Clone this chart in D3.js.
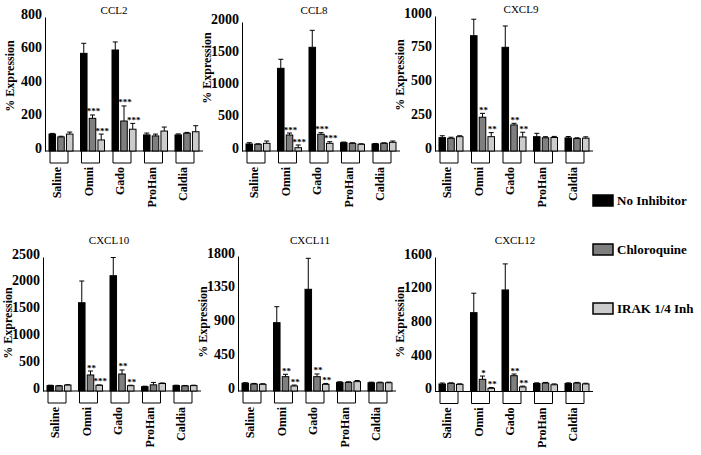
<!DOCTYPE html>
<html><head><meta charset="utf-8">
<script src="https://cdn.jsdelivr.net/npm/d3@7"></script>
<style>
html,body{margin:0;padding:0;background:#fff;}
</style></head>
<body><svg id="c" width="701" height="455"></svg>
<script>
// ---------- DATA ----------
const categories = ["Saline", "Omni", "Gado", "ProHan", "Caldia"];
const seriesNames = ["No Inhibitor", "Chloroquine", "IRAK 1/4 Inh"];
const panelTitles = ["CCL2", "CCL8", "CXCL9", "CXCL10", "CXCL11", "CXCL12"];

const ticksCCL2 = [0, 200, 400, 600, 800];
const ticksCCL8 = [0, 500, 1000, 1500, 2000];
const ticksCXCL9 = [0, 250, 500, 750, 1000];
const ticksCXCL10 = [0, 500, 1000, 1500, 2000, 2500];
const ticksCXCL11 = [0, 450, 900, 1350, 1800];
const ticksCXCL12 = [0, 400, 800, 1200, 1600];

// mean values per series (No Inhibitor, Chloroquine, IRAK 1/4 Inh)
const ccl2Mean = [[101, 583, 603, 96, 96], [84, 195, 179, 90, 106], [101, 66, 130, 119, 115]];
const ccl2Err = [[4, 60, 48, 11, 6], [4, 20, 90, 11, 5], [12, 35, 35, 24, 36]];
const ccl2Sig = [["", "", "", "", ""], ["", "***", "***", "", ""], ["", "***", "***", "", ""]];

const ccl8Mean = [[109, 1282, 1608, 129, 109], [104, 248, 259, 119, 119], [119, 51, 119, 104, 135]];
const ccl8Err = [[20, 140, 263, 10, 8], [8, 31, 25, 8, 8], [36, 42, 25, 8, 20]];
const ccl8Sig = [["", "", "", "", ""], ["", "***", "***", "", ""], ["", "***", "***", "", ""]];

const cxcl9Mean = [[99, 854, 768, 106, 97], [94, 250, 193, 98, 92], [106, 106, 104, 100, 95]];
const cxcl9Err = [[14, 122, 158, 25, 10], [8, 29, 12, 8, 6], [7, 30, 35, 8, 10]];
const cxcl9Sig = [["", "", "", "", ""], ["", "**", "**", "", ""], ["", "**", "**", "", ""]];

const cxcl10Mean = [[100, 1647, 2151, 80, 100], [95, 299, 317, 115, 95], [110, 106, 99, 140, 100]];
const cxcl10Err = [[8, 405, 339, 10, 8], [8, 74, 75, 45, 8], [8, 8, 8, 10, 8]];
const cxcl10Sig = [["", "", "", "", ""], ["", "**", "**", "", ""], ["", "***", "**", "", ""]];

const cxcl11Mean = [[103, 911, 1356, 115, 110], [93, 191, 191, 115, 110], [89, 67, 89, 125, 110]];
const cxcl11Err = [[8, 213, 413, 8, 8], [8, 32, 36, 8, 8], [8, 12, 12, 15, 8]];
const cxcl11Sig = [["", "", "", "", ""], ["", "**", "**", "", ""], ["", "**", "**", "", ""]];

const cxcl12Mean = [[89, 938, 1208, 95, 95], [97, 145, 188, 100, 100], [85, 38, 54, 80, 90]];
const cxcl12Err = [[12, 231, 310, 8, 8], [6, 39, 20, 8, 8], [6, 10, 10, 10, 8]];
const cxcl12Sig = [["", "", "", "", ""], ["", "*", "**", "", ""], ["", "**", "**", "", ""]];

// ---------- LAYOUT ----------
const FONT = "'Liberation Serif'";
const colors = ["#000000", "#7f7f7f", "#cccccc"];
const panels = [
  {title: panelTitles[0], ticks: ticksCCL2, mean: ccl2Mean, err: ccl2Err, sig: ccl2Sig, ax: 45, y0: 151, yTop: 17, tx: 114, ty: 10, ly: 76},
  {title: panelTitles[1], ticks: ticksCCL8, mean: ccl8Mean, err: ccl8Err, sig: ccl8Sig, ax: 242, y0: 151, yTop: 22, tx: 314, ty: 10, ly: 68},
  {title: panelTitles[2], ticks: ticksCXCL9, mean: cxcl9Mean, err: cxcl9Err, sig: cxcl9Sig, ax: 435, y0: 151, yTop: 16, tx: 521, ty: 9, ly: 75},
  {title: panelTitles[3], ticks: ticksCXCL10, mean: cxcl10Mean, err: cxcl10Err, sig: cxcl10Sig, ax: 43, y0: 391, yTop: 257, tx: 109, ty: 240, ly: 323},
  {title: panelTitles[4], ticks: ticksCXCL11, mean: cxcl11Mean, err: cxcl11Err, sig: cxcl11Sig, ax: 238, y0: 391, yTop: 256, tx: 310, ty: 240, ly: 322},
  {title: panelTitles[5], ticks: ticksCXCL12, mean: cxcl12Mean, err: cxcl12Err, sig: cxcl12Sig, ax: 435, y0: 391.5, yTop: 257, tx: 515, ty: 240, ly: 322}
];

const svg = d3.select("#c");

function txt(sel) { return sel.style("font-family", FONT).attr("fill", "#000"); }

panels.forEach(p => {
  const g = svg.append("g");
  const y = d3.scaleLinear().domain([0, d3.max(p.ticks)]).range([p.y0, p.yTop]);
  const x = d3.scaleBand().domain(categories).range([p.ax + 4, p.ax + 154]).paddingInner(0.238).paddingOuter(0);
  const xs = d3.scaleBand().domain(d3.range(seriesNames.length)).range([0, x.bandwidth()]).paddingInner(0.25);

  // y axis
  const yAxis = d3.axisLeft(y).tickValues(p.ticks).tickSize(0).tickSizeOuter(0).tickPadding(3).tickFormat(d3.format("d"));
  const ya = g.append("g").attr("transform", `translate(${p.ax},0)`).call(yAxis);
  ya.attr("font-family", null).attr("font-size", null);
  ya.select(".domain").attr("stroke", "#000").attr("stroke-width", 1);
  txt(ya.selectAll("text")).style("font-size", "14px").style("font-weight", "bold").attr("dy", "0.08em");

  // baseline
  g.append("line").attr("x1", p.ax).attr("x2", x.range()[1] + 4)
    .attr("y1", p.y0).attr("y2", p.y0).attr("stroke", "#000").attr("stroke-width", 1);

  // brackets + labels
  categories.forEach(c => {
    const x0 = x(c);
    g.append("path").attr("d", `M${x0 + 1},${p.y0}V${p.y0 + 12}H${x0 + 19}V${p.y0}`)
      .attr("fill", "none").attr("stroke", "#000").attr("stroke-width", 1);
    txt(g.append("text")).attr("transform", `translate(${x0 + 8},${p.y0 + 16}) rotate(-90)`)
      .attr("text-anchor", "end").attr("dy", "0.35em")
      .style("font-size", "12px").style("font-weight", "bold").text(c);
  });

  // bars
  seriesNames.forEach((s, si) => {
    categories.forEach((c, ci) => {
      const v = p.mean[si][ci], e = p.err[si][ci];
      const bx = x(c) + xs(si), bw = xs.bandwidth(), cx = bx + bw / 2;
      g.append("line").attr("x1", cx).attr("x2", cx).attr("y1", y(v)).attr("y2", y(v + e))
        .attr("stroke", "#000").attr("stroke-width", 1);
      g.append("line").attr("x1", cx - 2.5).attr("x2", cx + 2.5).attr("y1", y(v + e)).attr("y2", y(v + e))
        .attr("stroke", "#000").attr("stroke-width", 1);
      g.append("rect").attr("x", bx).attr("y", y(v)).attr("width", bw).attr("height", p.y0 - y(v))
        .attr("fill", colors[si]).attr("stroke", "#000").attr("stroke-width", 1);
      const sg = p.sig[si][ci];
      if (sg) {
        txt(g.append("text")).attr("x", cx + 1).attr("y", y(v + e) - 0.5).attr("text-anchor", "middle")
          .style("font-size", "9px").style("font-weight", "bold").text(sg);
      }
    });
  });

  // title
  txt(g.append("text")).attr("x", p.tx).attr("y", p.ty).attr("dy", "0.35em").attr("text-anchor", "middle")
    .style("font-size", "11px").text(p.title);
  // y label
  txt(g.append("text")).attr("transform", `translate(${p.ax - 35},${p.ly}) rotate(-90)`)
    .attr("text-anchor", "middle").attr("dy", "0.35em")
    .style("font-size", "12px").style("font-weight", "bold").text("% Expression");
});

// legend
const legY = [195, 244, 303];
const lg = svg.append("g");
seriesNames.forEach((s, i) => {
  lg.append("rect").attr("x", 593).attr("y", legY[i]).attr("width", 20).attr("height", 11)
    .attr("fill", colors[i]).attr("stroke", "#000").attr("stroke-width", 1.5);
  txt(lg.append("text")).attr("x", 617).attr("y", legY[i] + 5.5).attr("dy", "0.35em")
    .style("font-size", "13px").style("font-weight", "bold").text(s);
});
</script>
</body></html>
